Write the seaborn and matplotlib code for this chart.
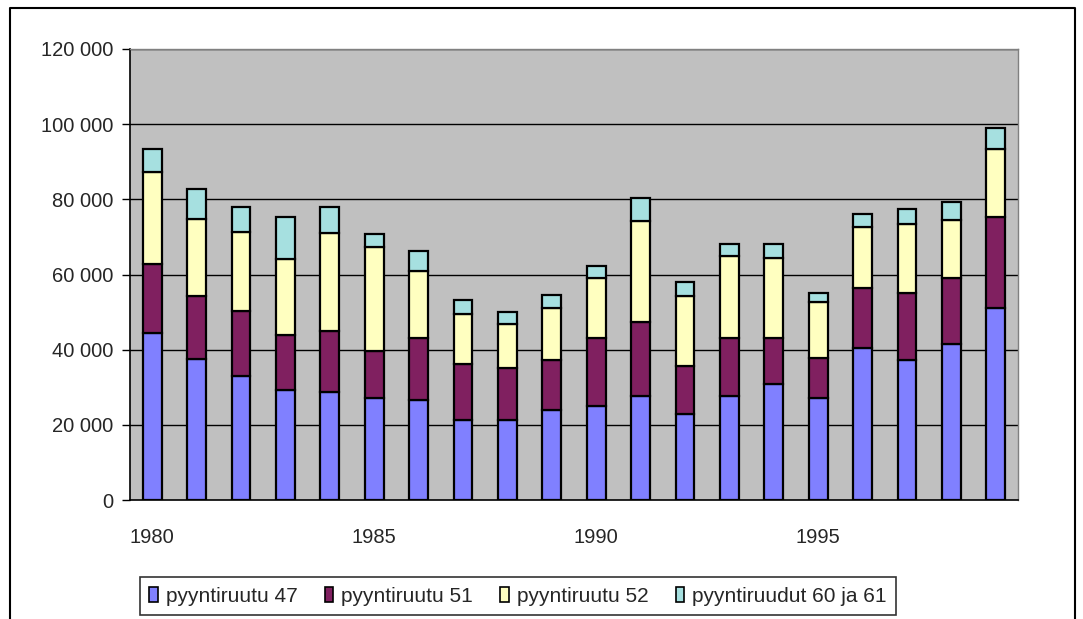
import numpy as np
import pandas as pd
import seaborn as sns
import matplotlib
import matplotlib.pyplot as plt
from matplotlib.lines import Line2D
from matplotlib.patches import Patch
from matplotlib.ticker import FuncFormatter

sns.set_style('white')
matplotlib.rcParams['font.family'] = ['Liberation Sans', 'DejaVu Sans']
matplotlib.rcParams['font.size'] = 14

# Data
years = list(range(1980, 2000))
ruutu47 = [44400, 37400, 33100, 29400, 28800, 27200, 26700, 21300, 21300, 24000,
           25100, 27800, 23000, 27800, 30900, 27200, 40500, 37300, 41600, 51200]
ruutu51 = [18400, 17000, 17100, 14500, 16100, 12400, 16500, 15000, 13900, 13300,
           18100, 19600, 12700, 15400, 12300, 10700, 16000, 17700, 17600, 24000]
ruutu52 = [24600, 20300, 21200, 20100, 26100, 27600, 17600, 13300, 11700, 13800,
           16000, 26800, 18700, 21800, 21300, 14900, 16100, 18500, 15300, 18100]
ruudut6061 = [5900, 8000, 6500, 11200, 6900, 3700, 5400, 3700, 3200, 3400,
              3100, 6200, 3700, 3200, 3700, 2200, 3600, 3900, 4900, 5800]

series = ['pyyntiruutu 47', 'pyyntiruutu 51', 'pyyntiruutu 52', 'pyyntiruudut 60 ja 61']
colors = ['#8080FF', '#802060', '#FFFFC0', '#A6E0E0']

df = pd.DataFrame({'Vuosi': [str(y) for y in years],
                   series[0]: ruutu47, series[1]: ruutu51,
                   series[2]: ruutu52, series[3]: ruudut6061})

fig = plt.figure(figsize=(10.83, 6.19), dpi=100)
ax = fig.add_axes([130 / 1083, 1 - 500 / 619, 888 / 1083, 451 / 619])
ax.set_facecolor('#C0C0C0')

# grid first so bars sit on top
for v in range(20000, 120001, 20000):
    ax.axhline(v, color='black', linewidth=1, zorder=0.5)

bottom = np.zeros(len(years))
for s, c in zip(series, colors):
    sns.barplot(data=df, x='Vuosi', y=s, bottom=bottom, color=c, saturation=1,
                width=0.42, edgecolor='black', linewidth=1.6, ax=ax, zorder=2)
    bottom += df[s].values

ax.set_xlim(-0.5, len(years) - 0.5)
ax.set_ylim(0, 120000)
ax.set_xlabel('')
ax.set_ylabel('')

# year labels every 5, tick marks between categories
ax.set_xticks([0, 5, 10, 15])
ax.set_xticklabels(['1980', '1985', '1990', '1995'])
ax.set_xticks(np.arange(-0.5, len(years), 1), minor=True)
ax.tick_params(axis='x', which='major', length=0, pad=20, labelsize=14.5)
ax.tick_params(axis='x', which='minor', length=6, width=1, color='black', direction='out')
ax.set_yticks(range(0, 120001, 20000))
ax.yaxis.set_major_formatter(FuncFormatter(lambda v, p: f'{int(v):,}'.replace(',', ' ')))
ax.tick_params(axis='y', length=6, width=1, color='black', direction='out',
               labelsize=14.5, pad=6, left=True)

for side in ['left', 'bottom']:
    ax.spines[side].set_color('black')
    ax.spines[side].set_linewidth(1.2)
for side in ['top', 'right']:
    ax.spines[side].set_color('#808080')
    ax.spines[side].set_linewidth(1)

# outer chart border
fx = [10 / 1083, 10 / 1083, 1075 / 1083, 1075 / 1083]
fy = [0, 1 - 8 / 619, 1 - 8 / 619, 0]
fig.add_artist(Line2D(fx, fy, transform=fig.transFigure, color='black', linewidth=1.5))

handles = [Patch(facecolor=c, edgecolor='black', linewidth=1.2) for c in colors]
leg = fig.legend(handles, series, loc='center', bbox_to_anchor=(518 / 1083, 1 - 596 / 619),
                 ncol=4, frameon=True, fancybox=False, fontsize=15, handlelength=0.4,
                 handleheight=0.75, handletextpad=0.4, columnspacing=1.3,
                 borderpad=0.45)
leg.get_frame().set_edgecolor('black')
leg.get_frame().set_linewidth(1.2)

plt.savefig('out.png', dpi=100)
